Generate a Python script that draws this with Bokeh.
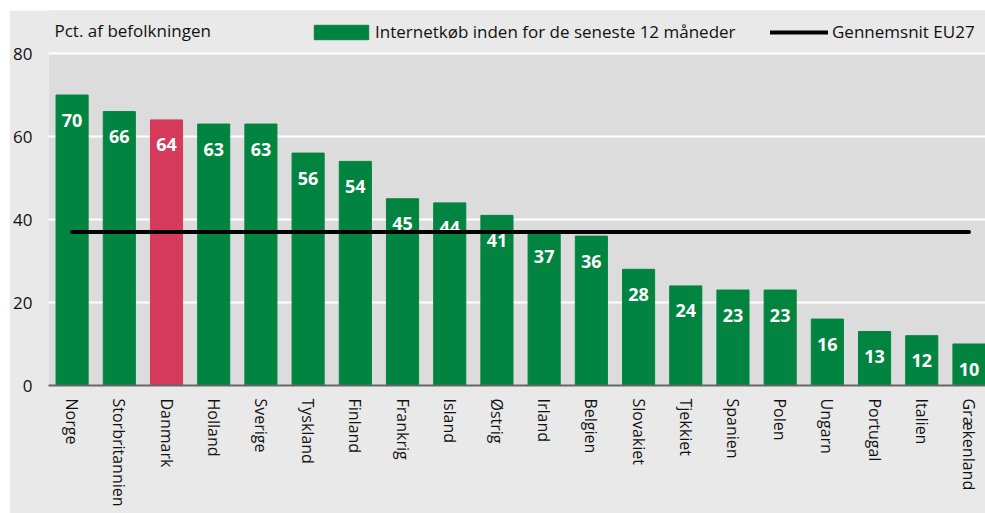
import math
from bokeh.plotting import figure
from bokeh.models import (Range1d, FixedTicker, ColumnDataSource, Label, Legend,
                          LegendItem, BoxAnnotation)
from bokeh.core.properties import value
from bokeh.embed import file_html
from bokeh.resources import INLINE

countries = ["Norge", "Storbritannien", "Danmark", "Holland", "Sverige", "Tyskland",
             "Finland", "Frankrig", "Island", "Østrig", "Irland", "Belgien", "Slovakiet",
             "Tjekkiet", "Spanien", "Polen", "Ungarn", "Portugal", "Italien", "Grækenland"]
values = [70, 66, 64, 63, 63, 56, 54, 45, 44, 41, 37, 36, 28, 24, 23, 23, 16, 13, 12, 10]
eu27_avg = 37
highlight = "Danmark"
y_ticks = [0, 20, 40, 60, 80]
title_text = "Pct. af befolkningen"
series_label = "Internetkøb inden for de seneste 12 måneder"
avg_label = "Gennemsnit EU27"

GREEN = "#00843f"
RED = "#d63a5a"
PANEL = "#e9e9e9"
PLOT_BG = "#dcdcdc"
TXT = "#111111"
FONT = "Open Sans"

xs = list(range(len(countries)))
colors = [RED if c == highlight else GREEN for c in countries]
src = ColumnDataSource(dict(x=xs, top=values, color=colors,
                            label=[str(v) for v in values]))

# frame: 0..80 occupies 332 px; extra headroom above 80 holds title and legend
y_top = 80 * 375 / 332

p = figure(width=976, height=503,
           x_range=Range1d(-0.5, 19.35), y_range=Range1d(0, y_top),
           output_backend="svg", toolbar_location=None,
           min_border_left=39, min_border_right=0,
           min_border_top=0, min_border_bottom=128)
p.margin = (10, 0, 0, 9)
p.background_fill_color = PLOT_BG
p.border_fill_color = PANEL
p.outline_line_color = None

# lighter band above the value range
p.add_layout(BoxAnnotation(bottom=y_ticks[-1], fill_color=PANEL, fill_alpha=1,
                           line_alpha=0, level="image"))

bars = p.vbar(x="x", top="top", width=0.68, bottom=0, color="color", source=src)

p.text(x="x", y="top", text="label", source=src, text_color="white",
       text_font=value(FONT), text_font_style="bold", text_font_size="18px",
       text_align="center", text_baseline="middle", y_offset=25)

avg_src = ColumnDataSource(dict(x=[xs[0], xs[-1]], y=[eu27_avg, eu27_avg]))
avg = p.line(x="x", y="y", source=avg_src, line_color="black", line_width=4,
             line_cap="round")

# axes
p.xaxis.ticker = FixedTicker(ticks=xs)
p.xaxis.major_label_overrides = {i: c for i, c in zip(xs, countries)}
p.xaxis.major_label_orientation = -math.pi / 2
p.xaxis.major_label_text_font = FONT
p.xaxis.major_label_text_font_size = "16px"
p.xaxis.major_label_text_color = TXT
p.xaxis.major_label_standoff = 13
p.xaxis.major_tick_line_color = None
p.xaxis.major_tick_out = 0
p.xaxis.major_tick_in = 0
p.xaxis.minor_tick_line_color = None
p.xaxis.minor_tick_out = 0
p.xaxis.axis_line_color = "#666666"
p.xaxis.axis_line_width = 2

p.yaxis.ticker = FixedTicker(ticks=y_ticks)
p.yaxis.major_label_text_font = FONT
p.yaxis.major_label_text_font_size = "17px"
p.yaxis.major_label_text_color = TXT
p.yaxis.major_label_standoff = 16
p.yaxis.major_tick_line_color = None
p.yaxis.major_tick_out = 0
p.yaxis.major_tick_in = 0
p.yaxis.minor_tick_line_color = None
p.yaxis.minor_tick_out = 0
p.yaxis.axis_line_color = None

p.xgrid.grid_line_color = None
p.ygrid.grid_line_color = "white"
p.ygrid.grid_line_width = 2
p.ygrid.ticker = FixedTicker(ticks=y_ticks)

# title inside the headroom band
p.add_layout(Label(x=6, x_units="screen", y=85.5, y_units="data", text=title_text,
                   text_font=FONT, text_font_size="17px", text_color=TXT,
                   text_baseline="middle"))

common = dict(orientation="horizontal", padding=0, margin=0,
              background_fill_alpha=0, border_line_alpha=0,
              label_text_font=FONT, label_text_font_size="17px",
              label_text_color=TXT, label_height=22)
leg1 = Legend(items=[LegendItem(label=series_label, renderers=[bars], index=0)],
              location=(259, 342), glyph_width=68, glyph_height=18,
              label_standoff=0, **common)
leg2 = Legend(items=[LegendItem(label=avg_label, renderers=[avg])],
              location=(722, 342), glyph_width=58, glyph_height=18,
              label_standoff=4, **common)
p.add_layout(leg1)
p.add_layout(leg2)

open("out.html", "w").write(file_html(p, INLINE))
